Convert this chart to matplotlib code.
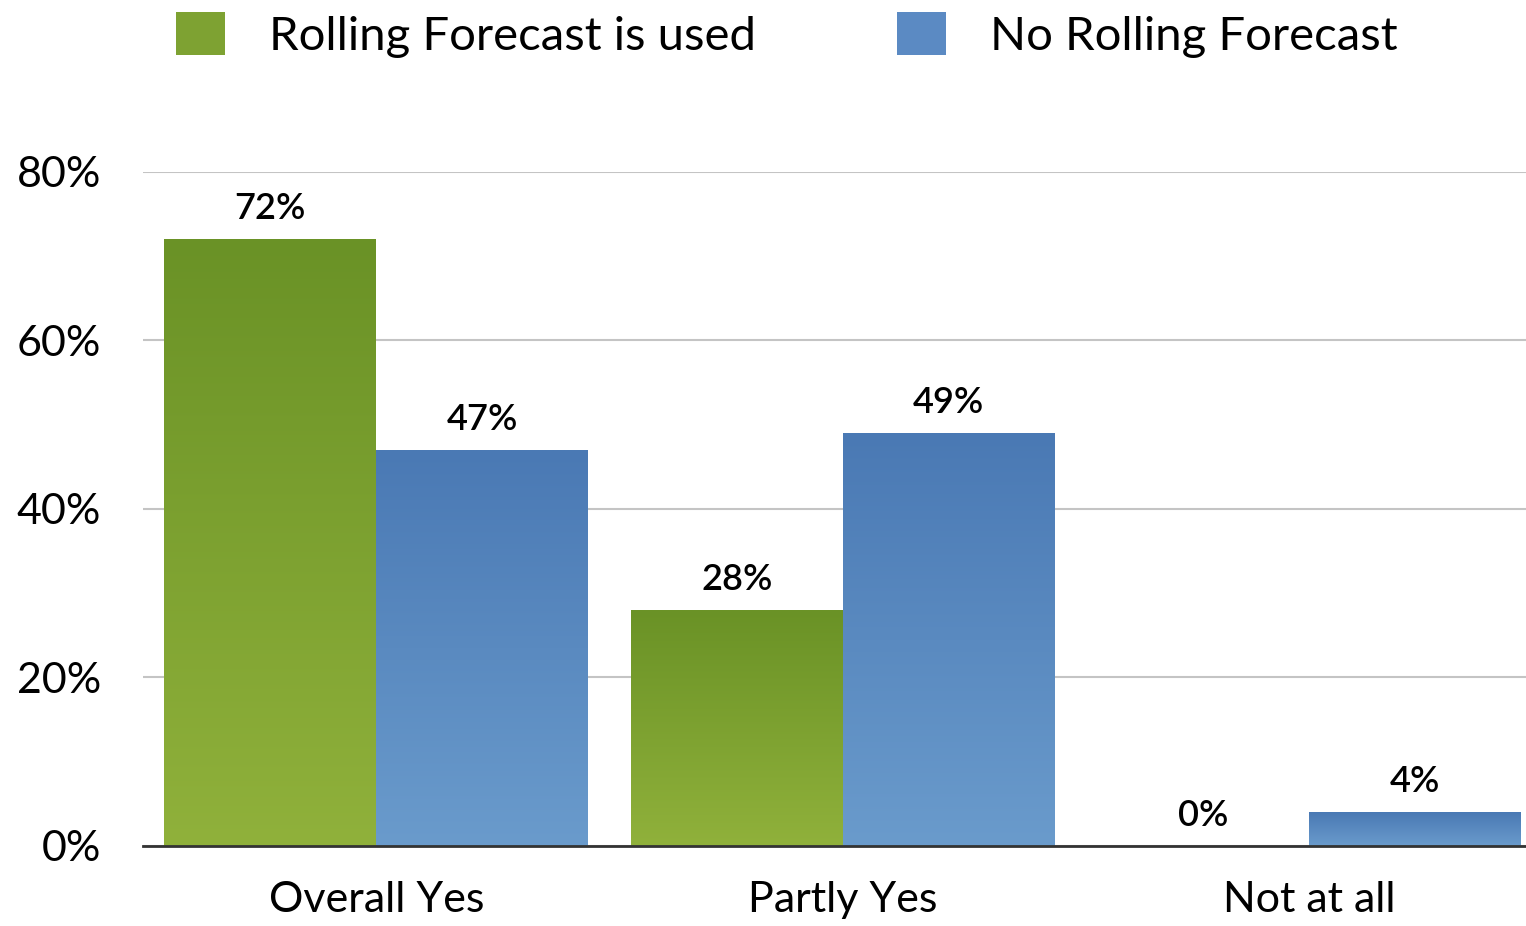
import numpy as np
import matplotlib
matplotlib.use("Agg")
import matplotlib.pyplot as plt
from matplotlib.patches import Patch
from matplotlib.colors import LinearSegmentedColormap

categories = ["Overall Yes", "Partly Yes", "Not at all"]
series_names = ["Rolling Forecast is used", "No Rolling Forecast"]
rolling_used = [72, 28, 0]
no_rolling = [47, 49, 4]
y_ticks = [0, 20, 40, 60, 80]

plt.rcParams["font.family"] = ["Lato", "DejaVu Sans"]

green_top, green_bot = "#6a9226", "#90b13b"
blue_top, blue_bot = "#4a79b4", "#6a9bcc"

fig = plt.figure(figsize=(15.26, 9.26), dpi=100)
ax = fig.add_axes([0.0937, 0.0864, 0.9063, 0.7279])

x = np.arange(len(categories))
width = 0.454


def gradient_bars(xpos, values, top, bot):
    bars = ax.bar(xpos, values, width, color=bot, zorder=2)
    cmap = LinearSegmentedColormap.from_list("g", [bot, top])
    grad = np.linspace(0, 1, 256).reshape(-1, 1)
    for b in bars:
        h = b.get_height()
        if h <= 0:
            continue
        x0 = b.get_x()
        im = ax.imshow(grad, cmap=cmap, aspect="auto", origin="lower",
                       extent=[x0, x0 + b.get_width(), 0, h], zorder=3)
        im.set_clip_path(b)
    return bars


b1 = gradient_bars(x - width / 2, rolling_used, green_top, green_bot)
b2 = gradient_bars(x + width / 2, no_rolling, blue_top, blue_bot)

for bars in (b1, b2):
    for b in bars:
        h = b.get_height()
        ax.annotate(f"{h:.0f}%", (b.get_x() + b.get_width() / 2, h),
                    xytext=(0, 10), textcoords="offset points",
                    ha="center", va="bottom", fontsize=26,
                    fontweight="semibold", zorder=5)

ax.set_xlim(-0.5, 2.465)
ax.set_ylim(0, 80)
ax.set_yticks(y_ticks)
ax.set_yticklabels([f"{t}%" for t in y_ticks])
ax.set_xticks(x)
ax.set_xticklabels(categories)
ax.tick_params(axis="y", length=0, pad=30, labelsize=31)
ax.tick_params(axis="x", length=0, pad=25, labelsize=31)
ax.yaxis.grid(True, color="#c4c4c4", linewidth=1.5, zorder=0)
ax.set_axisbelow(True)
for s in ("top", "right", "left"):
    ax.spines[s].set_visible(False)
ax.spines["bottom"].set_color("#333333")
ax.spines["bottom"].set_linewidth(2)
ax.spines["bottom"].set_zorder(6)

handles = [Patch(facecolor="#7ea232", edgecolor="none"),
           Patch(facecolor="#5b8ac3", edgecolor="none")]
fig.legend(handles, series_names, loc="upper left",
           bbox_to_anchor=(176 / 1526, 1 - 12 / 926), ncol=2, frameon=False,
           fontsize=34, handlelength=1.03, handleheight=1.03,
           handletextpad=0.93, columnspacing=3.0,
           borderpad=0, borderaxespad=0)

fig.savefig("out.png", dpi=100, facecolor="white")
